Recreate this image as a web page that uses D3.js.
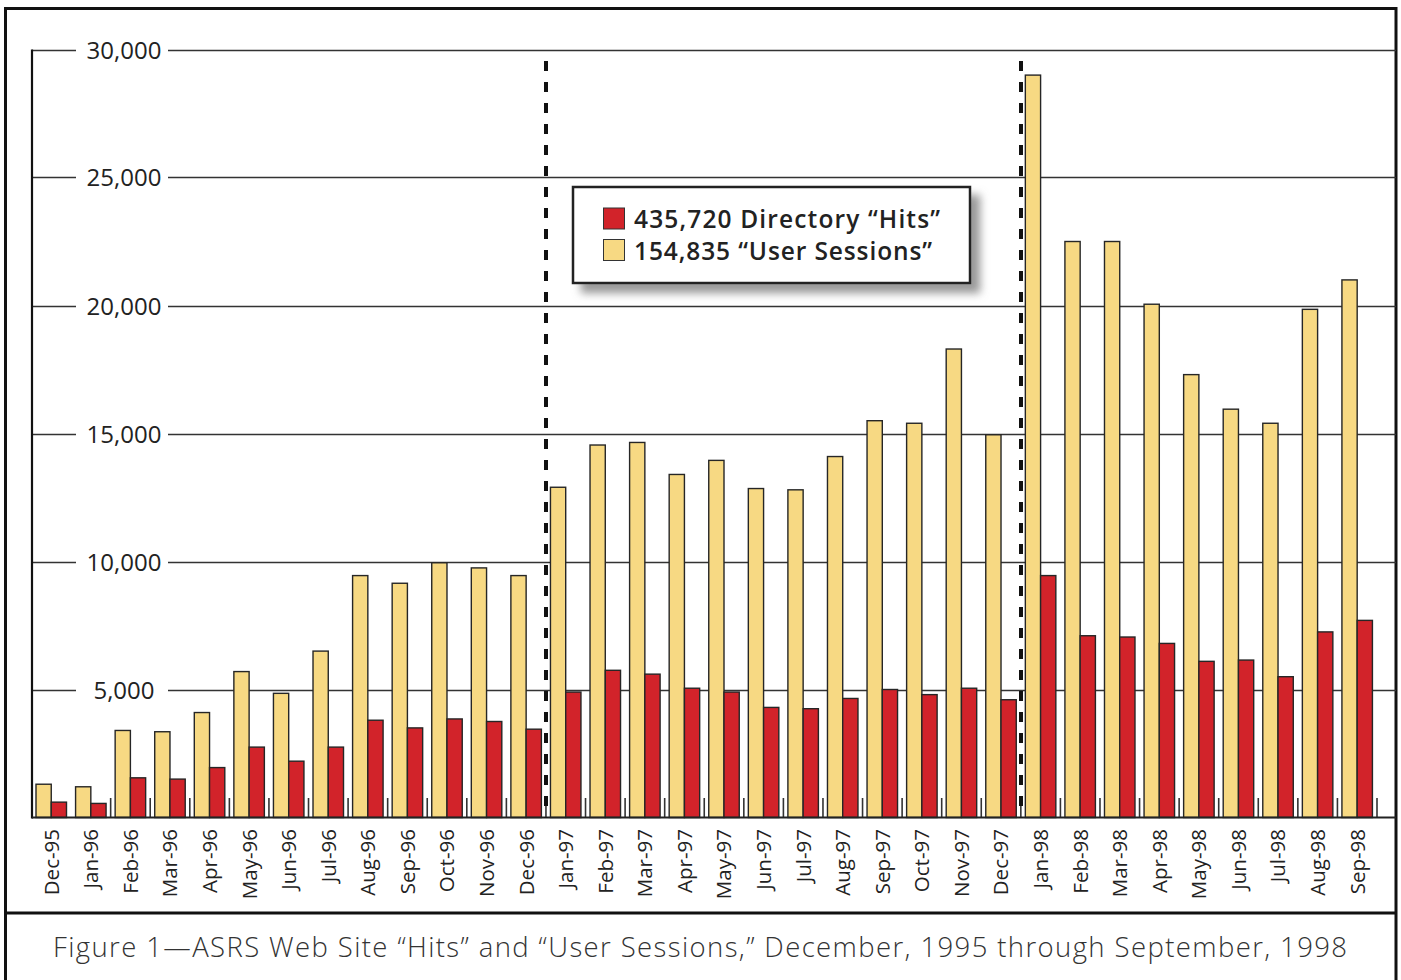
<!DOCTYPE html>
<html>
<head>
<meta charset="utf-8">
<script src="https://cdn.jsdelivr.net/npm/d3@7"></script>
<style>
  html, body { margin: 0; padding: 0; background: #fff; }
  svg { display: block; }
  text { font-family: "Open Sans", "Noto Sans", sans-serif; fill: #222; }
</style>
</head>
<body>
<svg id="chart" width="1401" height="980"></svg>
<script>
// ---- Data ----
const months = ["Dec-95","Jan-96","Feb-96","Mar-96","Apr-96","May-96","Jun-96","Jul-96","Aug-96","Sep-96","Oct-96","Nov-96","Dec-96",
  "Jan-97","Feb-97","Mar-97","Apr-97","May-97","Jun-97","Jul-97","Aug-97","Sep-97","Oct-97","Nov-97","Dec-97",
  "Jan-98","Feb-98","Mar-98","Apr-98","May-98","Jun-98","Jul-98","Aug-98","Sep-98"];
const userSessions = [1300,1200,3400,3350,4100,5700,4850,6500,9450,9150,9950,9750,9450,
  12900,14550,14650,13400,13950,12850,12800,14100,15500,15400,18300,14950,
  29000,22500,22500,20050,17300,15950,15400,19850,21000];
const directoryHits = [600,550,1550,1500,1950,2750,2200,2750,3800,3500,3850,3750,3450,
  4900,5750,5600,5050,4900,4300,4250,4650,5000,4800,5050,4600,
  9450,7100,7050,6800,6100,6150,5500,7250,7700];
const yTicks = [5000,10000,15000,20000,25000,30000];
const seriesKeys = ["sessions","hits"];
const legendItems = [
  {key:"hits", label:"435,720 Directory \u201CHits\u201D"},
  {key:"sessions", label:"154,835 \u201CUser Sessions\u201D"}
];
const dividerAfter = ["Dec-96","Dec-97"];
const caption = "Figure 1\u2014ASRS Web Site \u201CHits\u201D and \u201CUser Sessions,\u201D December, 1995 through September, 1998";

// ---- Styles ----
const colors = {sessions:"#F7D983", hits:"#D2232A"};
const legendWidths = [306, 298];
const svg = d3.select("#chart");

const x0 = 31.5, x1 = 1377, yBase = 817.5, yTop = 49.5;
const x = d3.scaleBand().domain(months).range([x0, x1]).padding(0);
const xs = d3.scaleBand().domain(seriesKeys).range([4.5, 35]).padding(0);
const y = d3.scaleLinear().domain([0, 30000]).range([yBase, yTop]);

// defs: legend shadow
const defs = svg.append("defs");
const f = defs.append("filter").attr("id","shadow").attr("x","-10%").attr("y","-20%").attr("width","130%").attr("height","160%");
f.append("feDropShadow").attr("dx",9).attr("dy",9).attr("stdDeviation",4).attr("flood-color","#777").attr("flood-opacity",0.75);

// outer frame
svg.append("rect").attr("x",5.5).attr("y",8.5).attr("width",1390.5).attr("height",990)
  .attr("fill","none").attr("stroke","#111").attr("stroke-width",3);
svg.append("line").attr("x1",5.5).attr("x2",1396).attr("y1",913).attr("y2",913)
  .attr("stroke","#111").attr("stroke-width",3);

// gridlines with gap for labels
const grid = svg.append("g");
yTicks.forEach(t => {
  const yy = Math.round(y(t)) + 0.5;
  grid.append("line").attr("x1",32).attr("x2",76).attr("y1",yy).attr("y2",yy).attr("stroke","#333").attr("stroke-width",1.6);
  grid.append("line").attr("x1",168).attr("x2",1396).attr("y1",yy).attr("y2",yy).attr("stroke","#333").attr("stroke-width",1.6);
  grid.append("text").attr("x",124).attr("y",yy).attr("dy","0.36em").attr("text-anchor","middle")
    .attr("font-size",24).attr("font-weight",500).text(d3.format(",")(t));
});

// band separator ticks
const boundaries = months.slice(2).map(m => x(m)).concat([x1]);
svg.append("g").selectAll("line").data(boundaries).join("line")
  .attr("x1",d=>d).attr("x2",d=>d).attr("y1",798).attr("y2",yBase)
  .attr("stroke","#333").attr("stroke-width",1.6);

// bars
const data = months.map((m,i)=>({m, sessions:userSessions[i], hits:directoryHits[i]}));
const gBars = svg.append("g");
data.forEach(d => {
  seriesKeys.forEach(k => {
    gBars.append("rect")
      .attr("x", x(d.m) + xs(k))
      .attr("y", y(d[k]))
      .attr("width", xs.bandwidth())
      .attr("height", yBase - y(d[k]))
      .attr("fill", colors[k]).attr("stroke","#262626").attr("stroke-width",1.4);
  });
});

// axes lines
svg.append("line").attr("x1",32).attr("x2",32).attr("y1",yTop).attr("y2",yBase+1)
  .attr("stroke","#111").attr("stroke-width",2.2);
svg.append("line").attr("x1",32).attr("x2",1396).attr("y1",yBase).attr("y2",yBase)
  .attr("stroke","#222").attr("stroke-width",2);

// dashed dividers
dividerAfter.forEach(m => {
  const xx = Math.round(x(m) + x.bandwidth());
  svg.append("line").attr("x1",xx).attr("x2",xx).attr("y1",61).attr("y2",yBase)
    .attr("stroke","#111").attr("stroke-width",4).attr("stroke-dasharray","10,11");
});

// x labels
svg.append("g").selectAll("text").data(months).join("text")
  .attr("transform", m => `translate(${x(m)+x.bandwidth()/2},829) rotate(-90)`)
  .attr("text-anchor","end").attr("dy","0.36em")
  .attr("font-size",20.5).text(m=>m);

// legend
const lg = svg.append("g");
lg.append("rect").attr("x",573).attr("y",187).attr("width",397).attr("height",96)
  .attr("fill","#fff").attr("stroke","#222").attr("stroke-width",2.5).attr("filter","url(#shadow)");
legendItems.forEach((it,i) => {
  const yy = 208 + i*31.5;
  lg.append("rect").attr("x",603.5).attr("y",yy).attr("width",21).attr("height",21)
    .attr("fill",colors[it.key]).attr("stroke","#333").attr("stroke-width",1);
  lg.append("text").attr("x",634).attr("y",yy+20).attr("font-size",24.5).attr("font-weight",600)
    .attr("textLength",legendWidths[i]).attr("lengthAdjust","spacing")
    .text(it.label);
});

// caption
svg.append("text").attr("x",53).attr("y",957).attr("font-size",27.5).attr("font-weight",300)
  .style("fill","#333")
  .attr("textLength",1294).attr("lengthAdjust","spacing").text(caption);
</script>
</body>
</html>
